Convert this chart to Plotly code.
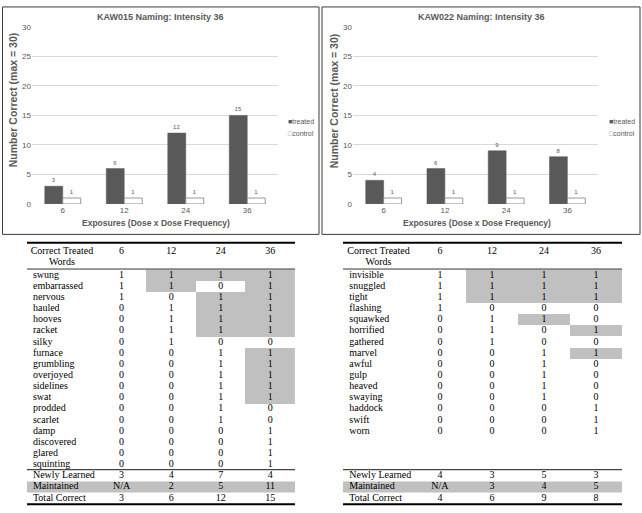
import plotly.graph_objects as go

# ---------------- data ----------------
exposures = ["6", "12", "24", "36"]

kaw015_treated = [3, 6, 12, 15]
kaw015_control = [1, 1, 1, 1]
kaw022_treated = [4, 6, 9, 8]
kaw022_control = [1, 1, 1, 1]

kaw015_words = ["swung", "embarrassed", "nervous", "hauled", "hooves", "racket",
                "silky", "furnace", "grumbling", "overjoyed", "sidelines", "swat",
                "prodded", "scarlet", "damp", "discovered", "glared", "squinting"]
kaw015_scores = [
    [1, 1, 1, 1], [1, 1, 0, 1], [1, 0, 1, 1], [0, 1, 1, 1], [0, 1, 1, 1], [0, 1, 1, 1],
    [0, 1, 0, 0], [0, 0, 1, 1], [0, 0, 1, 1], [0, 0, 1, 1], [0, 0, 1, 1], [0, 0, 1, 1],
    [0, 0, 1, 0], [0, 0, 1, 0], [0, 0, 0, 1], [0, 0, 0, 1], [0, 0, 0, 1], [0, 0, 0, 1],
]
kaw015_newly = [3, 4, 7, 4]
kaw015_maintained = ["N/A", 2, 5, 11]
kaw015_total = [3, 6, 12, 15]

kaw022_words = ["invisible", "snuggled", "tight", "flashing", "squawked", "horrified",
                "gathered", "marvel", "awful", "gulp", "heaved", "swaying",
                "haddock", "swift", "worn"]
kaw022_scores = [
    [1, 1, 1, 1], [1, 1, 1, 1], [1, 1, 1, 1], [1, 0, 0, 0], [0, 1, 1, 0], [0, 1, 0, 1],
    [0, 1, 0, 0], [0, 0, 1, 1], [0, 0, 1, 0], [0, 0, 1, 0], [0, 0, 1, 0], [0, 0, 1, 0],
    [0, 0, 0, 1], [0, 0, 0, 1], [0, 0, 0, 1],
]
kaw022_newly = [4, 3, 5, 3]
kaw022_maintained = ["N/A", 3, 4, 5]
kaw022_total = [4, 6, 9, 8]

summary_labels = ["Newly Learned", "Maintained", "Total Correct"]
header_lines = ["Correct Treated", "Words"]

# ---------------- style / layout ----------------
W, H = 642, 513
DARK = "#595959"
TXT = "#595959"
GRID = "#d9d9d9"
SHADE = "#c0c0c0"
SANS = "Liberation Sans, Arial, sans-serif"
SERIF = "Liberation Serif, Times New Roman, serif"


def px_x(a, b):
    return [a / W, b / W]


def px_y(top, bottom):
    return [1 - bottom / H, 1 - top / H]


fig = go.Figure()

CHART_Y = px_y(23.3, 203.5)
TABLE_Y = px_y(239.7, 512.6)
TABLE_YRANGE = [20.85, -3.2]
SUMMARY_ROW0 = 18

annotations = []
shapes = []


def add_chart(treated, control, xa, ya, title, left_px):
    fig.add_trace(go.Bar(
        x=exposures, y=treated, name="treated", xaxis=xa, yaxis=ya,
        marker=dict(color=DARK, line=dict(color=DARK, width=0.5)),
        text=treated, textposition="outside", cliponaxis=False,
        textfont=dict(family=SANS, size=6, color=TXT), showlegend=False,
        hoverinfo="skip"))
    fig.add_trace(go.Bar(
        x=exposures, y=control, name="control", xaxis=xa, yaxis=ya,
        marker=dict(color="white", line=dict(color="#7f7f7f", width=0.8)),
        text=control, textposition="outside", cliponaxis=False,
        textfont=dict(family=SANS, size=6, color=TXT), showlegend=False,
        hoverinfo="skip"))
    off = left_px
    annotations.append(dict(x=(off + 160) / W, y=1 - 13 / H, xref="paper", yref="paper",
                            text=title, showarrow=False, xanchor="center", yanchor="middle",
                            font=dict(family=SANS, size=9, color=TXT, weight="bold")))
    annotations.append(dict(x=(off + 156) / W, y=1 - 223 / H, xref="paper", yref="paper",
                            text="Exposures (Dose x Dose Frequency)", showarrow=False,
                            xanchor="center", yanchor="middle",
                            font=dict(family=SANS, size=8.5, color=TXT, weight="bold")))
    annotations.append(dict(x=(off + 13) / W, y=1 - 98 / H, xref="paper", yref="paper",
                            text="Number Correct (max = 30)", showarrow=False, textangle=-90,
                            xanchor="center", yanchor="middle",
                            font=dict(family=SANS, size=10.5, color=TXT, weight="bold")))
    annotations.append(dict(x=(off + 286) / W, y=1 - 120 / H, xref="paper", yref="paper",
                            text="<span style='color:#595959'>■</span>treated", showarrow=False,
                            xanchor="left", yanchor="middle",
                            font=dict(family=SANS, size=7, color=TXT)))
    annotations.append(dict(x=(off + 286) / W, y=1 - 132 / H, xref="paper", yref="paper",
                            text="<span style='color:#7f7f7f'>□</span>control", showarrow=False,
                            xanchor="left", yanchor="middle",
                            font=dict(family=SANS, size=7, color=TXT)))


def add_table(words, scores, newly, maintained, total, xa, ya, xrange0):
    n = len(words)
    mask = []
    for row in scores:
        mask.append([1 if (v == 1 and any(row[:j])) else None for j, v in enumerate(row)])
    fig.add_trace(go.Heatmap(
        x=[1, 2, 3, 4], y=list(range(n)), z=mask, xaxis=xa, yaxis=ya,
        colorscale=[[0, SHADE], [1, SHADE]], zmin=0, zmax=1, showscale=False,
        hoverinfo="skip"))
    word_x = xrange0 + 0.12
    header_x = (xrange0 + 0.5) / 2
    # header
    fig.add_trace(go.Scatter(
        x=[header_x, header_x] + [1, 2, 3, 4], y=[-2.1, -1.12] + [-2.1] * 4,
        text=header_lines + exposures, mode="text", textposition="middle center",
        textfont=dict(family=SERIF, size=10, color="black"), xaxis=xa, yaxis=ya,
        showlegend=False, hoverinfo="skip"))
    # words + summary labels
    label_y = list(range(n)) + [SUMMARY_ROW0 + k for k in range(3)]
    fig.add_trace(go.Scatter(
        x=[word_x] * len(label_y), y=label_y, text=words + summary_labels,
        mode="text", textposition="middle right",
        textfont=dict(family=SERIF, size=10, color="black"), xaxis=xa, yaxis=ya,
        showlegend=False, hoverinfo="skip"))
    # values
    vx, vy, vt = [], [], []
    for i, row in enumerate(scores):
        for j, v in enumerate(row):
            vx.append(j + 1); vy.append(i); vt.append(str(v))
    for k, srow in enumerate([newly, maintained, total]):
        for j, v in enumerate(srow):
            vx.append(j + 1); vy.append(SUMMARY_ROW0 + k); vt.append(str(v))
    fig.add_trace(go.Scatter(
        x=vx, y=vy, text=vt, mode="text", textposition="middle center",
        textfont=dict(family=SERIF, size=10, color="black"), xaxis=xa, yaxis=ya,
        showlegend=False, hoverinfo="skip"))
    # rules
    dom = f"{xa} domain"
    shapes.append(dict(type="rect", xref=dom, yref=ya, x0=0, x1=1,
                       y0=SUMMARY_ROW0 + 0.5, y1=SUMMARY_ROW0 + 1.5,
                       fillcolor=SHADE, line=dict(width=0), layer="below"))
    for yy, wdt, col in [(-2.9, 2, "black"), (-0.55, 0.8, "black"),
                         (17.45, 1.2, "#444444"), (20.55, 2.2, "black")]:
        shapes.append(dict(type="line", xref=dom, yref=ya, x0=0, x1=1, y0=yy, y1=yy,
                           line=dict(color=col, width=wdt), layer="above"))


add_chart(kaw015_treated, kaw015_control, "x", "y", "KAW015 Naming: Intensity 36", 0)
add_chart(kaw022_treated, kaw022_control, "x2", "y2", "KAW022 Naming: Intensity 36", 321)
add_table(kaw015_words, kaw015_scores, kaw015_newly, kaw015_maintained, kaw015_total,
          "x3", "y3", -0.91)
add_table(kaw022_words, kaw022_scores, kaw022_newly, kaw022_maintained, kaw022_total,
          "x4", "y4", -0.865)

# chart frames
shapes.append(dict(type="rect", xref="paper", yref="paper", x0=2.5 / W, x1=319 / W,
                   y0=1 - 234.5 / H, y1=1 - 3 / H, line=dict(color="#3a3a3a", width=1)))
shapes.append(dict(type="rect", xref="paper", yref="paper", x0=322 / W, x1=640 / W,
                   y0=1 - 234.5 / H, y1=1 - 3 / H, line=dict(color="#3a3a3a", width=1)))

bar_x = dict(type="category", showgrid=False, zeroline=False, showline=False, ticks="",
             tickfont=dict(family=SANS, size=8, color=TXT), fixedrange=True)
bar_y = dict(range=[0, 30], dtick=5, showgrid=True, gridcolor=GRID, gridwidth=0.8,
             zeroline=False, showline=False, ticks="",
             tickfont=dict(family=SANS, size=8, color=TXT), fixedrange=True)
tab_ax = dict(visible=False, showgrid=False, zeroline=False, fixedrange=True)

fig.update_layout(
    width=W, height=H, margin=dict(l=0, r=0, t=0, b=0),
    paper_bgcolor="white", plot_bgcolor="white",
    barmode="group", bargap=0.415, bargroupgap=0,
    xaxis=dict(bar_x, domain=px_x(32, 278), anchor="y"),
    yaxis=dict(bar_y, domain=CHART_Y, anchor="x"),
    xaxis2=dict(bar_x, domain=px_x(353, 598), anchor="y2"),
    yaxis2=dict(bar_y, domain=CHART_Y, anchor="x2"),
    xaxis3=dict(tab_ax, domain=px_x(27, 295), range=[-0.91, 4.5], anchor="y3"),
    yaxis3=dict(tab_ax, domain=TABLE_Y, range=TABLE_YRANGE, anchor="x3"),
    xaxis4=dict(tab_ax, domain=px_x(343, 622), range=[-0.865, 4.5], anchor="y4"),
    yaxis4=dict(tab_ax, domain=TABLE_Y, range=TABLE_YRANGE, anchor="x4"),
    annotations=annotations, shapes=shapes, showlegend=False,
)

fig.write_html("out.html", config={"displayModeBar": False},
               post_script="document.body.style.margin='0';")
